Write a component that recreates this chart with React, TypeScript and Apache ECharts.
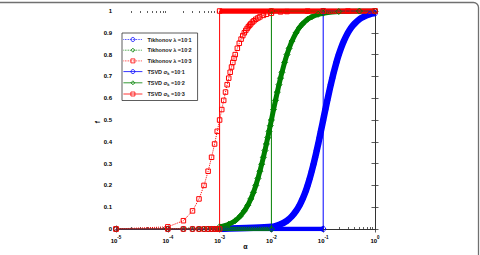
import React, { useEffect, useRef } from "react";
import * as echarts from "echarts";

// ---- data ----
const xTickExps = ["-5", "-4", "-3", "-2", "-1", "0"];
const yTickLabels = ["0", "0.1", "0.2", "0.3", "0.4", "0.5", "0.6", "0.7", "0.8", "0.9", "1"];
const decadeExps = [-5, -4, -3, -2, -1];
const minorMultipliers = [2, 3, 4, 5, 6, 7, 8, 9];
const xAxisTitle = "α";
const yAxisTitle = "f";

const legendNames = [
  "Tikhonov λ =10^-1",
  "Tikhonov λ =10^-2",
  "Tikhonov λ =10^-3",
  "TSVD σk =10^-1",
  "TSVD σk =10^-2",
  "TSVD σk =10^-3",
];

// Tikhonov, lambda = 1e-1 (blue)
const tikBlueSigma = [1e-5, 1e-4, 1e-3, 1e-2, 1.5e-2, 2e-2, 2.5e-2, 3e-2, 3.5e-2, 4e-2, 4.5e-2, 5e-2, 5.5e-2, 6e-2, 6.5e-2, 7e-2, 7.5e-2, 8e-2, 8.5e-2, 9e-2, 9.5e-2, 0.1, 0.11, 0.12, 0.13, 0.14, 0.15, 0.16, 0.18, 0.2, 0.22, 0.25, 0.3, 0.35, 0.4, 0.5, 0.6, 0.8, 1];
const tikBlueF = [0, 0, 0.0001, 0.0099, 0.022, 0.038, 0.059, 0.083, 0.109, 0.138, 0.168, 0.2, 0.232, 0.265, 0.297, 0.329, 0.36, 0.39, 0.419, 0.448, 0.474, 0.5, 0.548, 0.59, 0.628, 0.662, 0.692, 0.719, 0.764, 0.8, 0.829, 0.862, 0.9, 0.925, 0.941, 0.962, 0.973, 0.985, 0.99];

// Tikhonov, lambda = 1e-2 (green)
const tikGreenSigma = [1e-5, 1e-4, 1e-3, 1.5e-3, 2e-3, 2.5e-3, 3e-3, 3.5e-3, 4e-3, 4.5e-3, 5e-3, 5.5e-3, 6e-3, 6.5e-3, 7e-3, 7.5e-3, 8e-3, 8.5e-3, 9e-3, 9.5e-3, 1e-2, 1.1e-2, 1.2e-2, 1.3e-2, 1.4e-2, 1.5e-2, 1.6e-2, 1.8e-2, 2e-2, 2.2e-2, 2.5e-2, 3e-2, 3.5e-2, 4e-2, 5e-2, 6e-2, 8e-2, 0.1, 0.2, 0.5, 1];
const tikGreenF = [0, 0.0001, 0.0099, 0.022, 0.038, 0.059, 0.083, 0.109, 0.138, 0.168, 0.2, 0.232, 0.265, 0.297, 0.329, 0.36, 0.39, 0.419, 0.448, 0.474, 0.5, 0.548, 0.59, 0.628, 0.662, 0.692, 0.719, 0.764, 0.8, 0.829, 0.862, 0.9, 0.925, 0.941, 0.962, 0.973, 0.985, 0.99, 0.9975, 0.9996, 0.9999];

// Tikhonov, lambda = 1e-3 (red)
const tikRedSigma = [1e-5, 1e-4, 2e-4, 3e-4, 4e-4, 5e-4, 6e-4, 7e-4, 8e-4, 9e-4, 1e-3, 1.1e-3, 1.2e-3, 1.3e-3, 1.4e-3, 1.5e-3, 1.6e-3, 1.7e-3, 1.8e-3, 1.9e-3, 2e-3, 2.2e-3, 2.4e-3, 2.6e-3, 2.8e-3, 3e-3, 3.2e-3, 3.4e-3, 3.6e-3, 3.8e-3, 4e-3, 4.3e-3, 4.6e-3, 5e-3, 5.5e-3, 6e-3, 7e-3, 8e-3, 1e-2, 1.5e-2, 2e-2, 5e-2, 0.1, 0.3, 1];
const tikRedF = [0.0001, 0.0099, 0.038, 0.083, 0.138, 0.2, 0.265, 0.329, 0.39, 0.448, 0.5, 0.548, 0.59, 0.628, 0.662, 0.692, 0.719, 0.743, 0.764, 0.783, 0.8, 0.829, 0.852, 0.871, 0.887, 0.9, 0.911, 0.92, 0.928, 0.935, 0.941, 0.949, 0.955, 0.962, 0.968, 0.973, 0.98, 0.985, 0.99, 0.996, 0.9975, 0.9996, 0.9999, 1, 1];

// TSVD step filters
const tsvdBlueSigma = [1e-5, 1e-4, 2e-4, 3e-4, 4e-4, 5e-4, 6e-4, 7e-4, 8e-4, 9e-4, 1e-3, 1e-2, 0.1, 0.1, 1];
const tsvdBlueF = [0, 0, 0, 0, 0, 0, 0, 0, 0, 0, 0, 0, 0, 1, 1];
const tsvdGreenSigma = [1e-5, 1e-4, 2e-4, 3e-4, 4e-4, 5e-4, 6e-4, 7e-4, 8e-4, 9e-4, 1e-3, 1e-2, 1e-2, 0.1, 1];
const tsvdGreenF = [0, 0, 0, 0, 0, 0, 0, 0, 0, 0, 0, 0, 1, 1, 1];
const tsvdRedSigma = [1e-5, 1e-4, 2e-4, 3e-4, 4e-4, 5e-4, 6e-4, 7e-4, 8e-4, 9e-4, 1e-3, 1e-3, 1e-2, 0.1, 1];
const tsvdRedF = [0, 0, 0, 0, 0, 0, 0, 0, 0, 0, 0, 1, 1, 1, 1];

// sigma from which MATLAB markers are so dense they merge into a band
const denseFrom = 1e-3;

const BLUE = "#0000ff";
const GREEN = "#008000";
const RED = "#ff0000";
const FONT = "Liberation Sans, Arial, sans-serif";

const pts = (xs: number[], ys: number[]) => xs.map((x, i) => [x, ys[i]]);
const densePart = (xs: number[], ys: number[], f?: number) =>
  pts(xs, ys).filter((p) => p[0] >= denseFrom && (f === undefined || p[1] === f));

const band = (data: number[][], color: string, width: number, opacity = 1, smooth: number | boolean = false) => ({
  type: "line",
  data,
  symbol: "none",
  silent: true,
  smooth,
  emphasis: { disabled: true },
  lineStyle: { color, width, type: "solid", opacity, cap: "butt", join: "round" },
  z: 2,
});

const main = (name: string, data: number[][], color: string, symbol: string, dashed: boolean, size = 5) => ({
  type: "line",
  name,
  data,
  symbol,
  symbolSize: size,
  showAllSymbol: true,
  emphasis: { disabled: true },
  color,
  lineStyle: { color, width: 1, type: dashed ? "dotted" : "solid", opacity: 1 },
  itemStyle: { color: "rgba(255,255,255,0)", borderColor: color, borderWidth: 1 },
  z: 3,
});

const legendColors = [BLUE, GREEN, RED, BLUE, GREEN, RED];

export default function App() {
  const ref = useRef<HTMLDivElement>(null);
  useEffect(() => {
    if (!ref.current) return;
    const chart = echarts.init(ref.current, null, { renderer: "svg" });
    // minor tick positions, in log10 units (2..9 times each decade)
    const minorTicks: number[] = [];
    decadeExps.forEach((e) => minorMultipliers.forEach((m) => minorTicks.push(e + Math.log10(m))));
    const axisColor = "#333";
    const tickStyle = { color: axisColor, width: 0.8 };
    const minorAxis = (position: string) => ({
      type: "value",
      min: -5,
      max: 0,
      position,
      axisLine: { show: false },
      axisTick: { show: true, inside: true, length: 2, lineStyle: tickStyle, customValues: minorTicks },
      axisLabel: { show: false },
      splitLine: { show: false },
    });
    const option: any = {
      animation: false,
      backgroundColor: "#fff",
      grid: { left: 116, right: 105, top: 11, bottom: 22, containLabel: false },
      graphic: [
        {
          type: "rect",
          shape: { x: -10, y: 2.5, width: 488.5, height: 270, r: 5 },
          style: { fill: "none", stroke: "#707070", lineWidth: 1.3 },
          silent: true,
        },
        {
          type: "text",
          x: 97,
          y: 122,
          rotation: Math.PI / 2,
          style: {
            text: yAxisTitle,
            fontSize: 7,
            fontWeight: "bold",
            fontFamily: FONT,
            fill: "#000",
            align: "center",
            verticalAlign: "middle",
          },
          silent: true,
        },
      ],
      xAxis: [
        {
          type: "log",
          logBase: 10,
          min: 1e-5,
          max: 1,
          position: "bottom",
          name: xAxisTitle,
          nameLocation: "middle",
          nameGap: 14,
          nameMoveOverlap: false,
          nameTextStyle: { fontSize: 7, fontWeight: "bold", fontFamily: FONT, color: "#000" },
          axisLine: { show: true, lineStyle: { color: axisColor, width: 1 } },
          axisTick: { show: true, inside: true, length: 3.5, lineStyle: tickStyle },
          splitLine: { show: false },
          axisLabel: {
            margin: 6,
            formatter: (v: number) => {
              const e = Math.round(Math.log10(v));
              const s = xTickExps[e + 5] ?? String(e);
              return `{b|10}{s|${s}}`;
            },
            rich: {
              b: { fontSize: 6, fontWeight: "bold", fontFamily: FONT, color: "#000", verticalAlign: "bottom", lineHeight: 9 },
              s: { fontSize: 4.5, fontWeight: "bold", fontFamily: FONT, color: "#000", verticalAlign: "top", lineHeight: 9 },
            },
          },
        },
        {
          type: "log",
          logBase: 10,
          min: 1e-5,
          max: 1,
          position: "top",
          axisLine: { show: true, lineStyle: { color: axisColor, width: 1 } },
          axisTick: { show: true, inside: true, length: 3.5, lineStyle: tickStyle },
          axisLabel: { show: false },
          splitLine: { show: false },
        },
        minorAxis("bottom"),
        minorAxis("top"),
      ],
      yAxis: [
        {
          type: "value",
          min: 0,
          max: 1,
          interval: 0.1,
          axisLine: { show: true, lineStyle: { color: axisColor, width: 1 } },
          axisTick: { show: true, inside: true, length: 3.5, lineStyle: tickStyle },
          splitLine: { show: false },
          axisLabel: {
            margin: 4,
            fontSize: 6,
            fontWeight: "bold",
            fontFamily: FONT,
            color: "#000",
            formatter: (v: number) => yTickLabels[Math.round(v * 10)],
          },
        },
        {
          type: "value",
          min: 0,
          max: 1,
          interval: 0.1,
          position: "right",
          axisLine: { show: true, lineStyle: { color: axisColor, width: 1 } },
          axisTick: { show: true, inside: true, length: 3.5, lineStyle: tickStyle },
          axisLabel: { show: false },
          splitLine: { show: false },
        },
      ],
      legend: {
        orient: "vertical",
        left: 122,
        top: 33,
        itemWidth: 19,
        itemHeight: 5,
        itemGap: 4.2,
        padding: [3, 6, 3, 1],
        borderColor: "#333",
        borderWidth: 0.8,
        backgroundColor: "#fff",
        selectedMode: false,
        data: legendNames.map((n, i) => ({
          name: n,
          itemStyle: { color: "rgba(255,255,255,0)", borderColor: legendColors[i], borderWidth: 0.8 },
          lineStyle: { color: legendColors[i], width: 0.8, type: i < 3 ? "dotted" : "solid" },
        })),
        formatter: (name: string) => {
          const last = name.slice(-1);
          if (name.startsWith("Tikhonov")) return `{t|Tikhonov λ =10}{p|-}{t|${last}}`;
          return `{t|TSVD σ}{k|k}{t| =10}{p|-}{t|${last}}`;
        },
        textStyle: {
          rich: {
            t: { fontSize: 5.5, fontWeight: "bold", fontFamily: FONT, color: "#222", lineHeight: 7 },
            p: { fontSize: 4, fontWeight: "bold", fontFamily: FONT, color: "#222", verticalAlign: "top", lineHeight: 7 },
            k: { fontSize: 4, fontWeight: "bold", fontFamily: FONT, color: "#222", verticalAlign: "bottom", lineHeight: 7, padding: [3, 0, 0, 0] },
          },
        },
      },
      series: [
        band(densePart(tikBlueSigma, tikBlueF), BLUE, 6.5, 1, 0.2),
        main(legendNames[0], pts(tikBlueSigma, tikBlueF), BLUE, "circle", true, 5),
        band(densePart(tikGreenSigma, tikGreenF), GREEN, 5, 1, 0.2),
        main(legendNames[1], pts(tikGreenSigma, tikGreenF), GREEN, "diamond", true, 6),
        main(legendNames[2], pts(tikRedSigma, tikRedF), RED, "rect", true, 4.5),
        band(densePart(tsvdBlueSigma, tsvdBlueF, 0), BLUE, 4.5),
        band(densePart(tsvdBlueSigma, tsvdBlueF, 1), BLUE, 4.5),
        main(legendNames[3], pts(tsvdBlueSigma, tsvdBlueF), BLUE, "circle", false, 5),
        band(densePart(tsvdGreenSigma, tsvdGreenF, 0), GREEN, 4.5, 0.85),
        band(densePart(tsvdGreenSigma, tsvdGreenF, 1), GREEN, 4.5),
        main(legendNames[4], pts(tsvdGreenSigma, tsvdGreenF), GREEN, "diamond", false, 6),
        band(densePart(tsvdRedSigma, tsvdRedF, 1), RED, 5.5),
        main(legendNames[5], pts(tsvdRedSigma, tsvdRedF), RED, "rect", false, 4.5),
      ],
    };
    chart.setOption(option);
    return () => chart.dispose();
  }, []);
  return (
    <div
      ref={ref}
      style={{ position: "fixed", left: 0, top: 0, width: 480, height: 255, background: "#fff" }}
    />
  );
}
